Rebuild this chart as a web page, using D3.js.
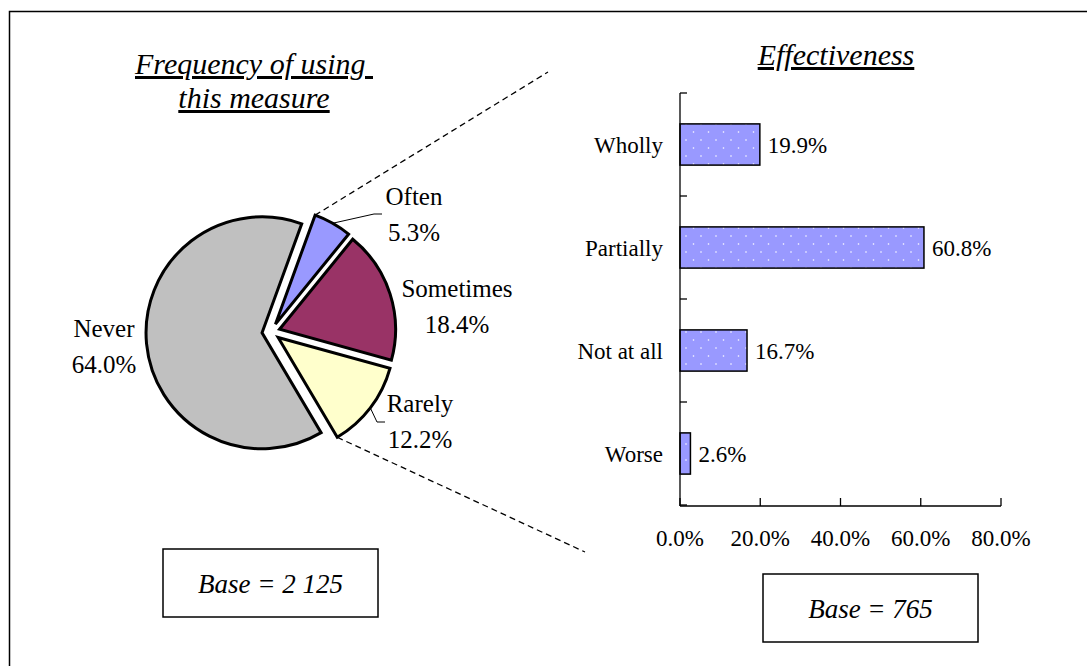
<!DOCTYPE html>
<html>
  <head>
    <style>
      body { margin: 0; background: #fff; }
      text { font-family: "Liberation Serif", "Times New Roman", serif; fill: #000; }
    </style>
  </head>

  <body>

    <svg class="surface" width="1087" height="666"></svg>

    <script src="https://cdn.jsdelivr.net/npm/d3@7/dist/d3.min.js" charset="utf-8"></script>
    <script>

      // pie: frequency of using this measure
      const pieLabels = ['Often', 'Sometimes', 'Rarely', 'Never']
      const pieValues = [5.3, 18.4, 12.2, 64.0]
      const pieColors = ['#9999FF', '#993366', '#FFFFCC', '#C0C0C0']

      // bars: effectiveness
      const barCats = ['Wholly', 'Partially', 'Not at all', 'Worse']
      const barValues = [19.9, 60.8, 16.7, 2.6]
      const xTicks = [0, 20, 40, 60, 80]

      const surface = d3.select('.surface')

      // outer frame (right / bottom edges fall outside the picture)
      surface.append('rect')
        .attr('x', 9.5).attr('y', 11.5)
        .attr('width', 1100).attr('height', 700)
        .attr('fill', 'none').attr('stroke', '#000').attr('stroke-width', 1.5)

      // dotted pattern for the bars
      const pat = surface.append('defs').append('pattern')
        .attr('id', 'dots')
        .attr('patternUnits', 'userSpaceOnUse')
        .attr('width', 15).attr('height', 16)
      pat.append('rect').attr('width', 15).attr('height', 16).attr('fill', '#9999FF')
      pat.append('circle').attr('cx', 3.5).attr('cy', 4).attr('r', 0.8).attr('fill', '#fff')
      pat.append('circle').attr('cx', 11).attr('cy', 12).attr('r', 0.8).attr('fill', '#fff')

      // ---------- left: pie ----------
      const cx = 271, cy = 332, radius = 116, explode = 9
      const pie = d3.pie().sort(null)
        .startAngle(20 * Math.PI / 180)
        .endAngle(380 * Math.PI / 180)
      const arcs = pie(pieValues)
      const arc = d3.arc().innerRadius(0).outerRadius(radius)

      const pieG = surface.append('g').attr('transform', `translate(${cx},${cy})`)

      // dashed connectors toward the bar chart
      const a0 = arcs[0]
      const a2 = arcs[2]
      const offs = d => d3.pointRadial((d.startAngle + d.endAngle) / 2, explode)
      const corner = (d, ang) => {
        const o = offs(d), p = d3.pointRadial(ang, radius)
        return [o[0] + p[0], o[1] + p[1]]
      }
      const c1 = corner(a0, a0.startAngle)
      const c2 = corner(a2, a2.endAngle)
      pieG.append('line')
        .attr('x1', c1[0]).attr('y1', c1[1])
        .attr('x2', 548 - cx).attr('y2', 72 - cy)
        .attr('stroke', '#000').attr('stroke-width', 1.3).attr('stroke-dasharray', '6,4')
      pieG.append('line')
        .attr('x1', c2[0]).attr('y1', c2[1])
        .attr('x2', 585 - cx).attr('y2', 552 - cy)
        .attr('stroke', '#000').attr('stroke-width', 1.3).attr('stroke-dasharray', '6,4')

      pieG.selectAll('path.slice').data(arcs).enter()
        .append('path')
        .attr('class', 'slice')
        .attr('transform', d => `translate(${offs(d)})`)
        .attr('d', arc)
        .attr('fill', (d, i) => pieColors[i])
        .attr('stroke', '#000')
        .attr('stroke-width', 3)
        .attr('stroke-linejoin', 'miter')

      // label anchors (first line baseline, relative to the pie centre)
      const labelAt = [[143, -127], [186, -35], [149, 80], [-167, 5]]
      const pieLab = pieG.selectAll('g.lab').data(arcs).enter()
        .append('g').attr('class', 'lab')
        .attr('transform', (d, i) => `translate(${labelAt[i]})`)
      pieLab.append('text')
        .attr('text-anchor', 'middle').attr('font-size', 25)
        .text((d, i) => pieLabels[i])
      pieLab.append('text')
        .attr('text-anchor', 'middle').attr('font-size', 25).attr('y', 36)
        .text(d => d.data.toFixed(1) + '%')

      // leader lines for the two small outer labels
      const leader = (d, kx, ky) => {
        const o = offs(d)
        const p = d3.pointRadial((d.startAngle + d.endAngle) / 2, radius)
        const s = [o[0] + p[0], o[1] + p[1]]
        return d3.line()([s, [kx - cx, ky - cy], [kx + 8 - cx, ky - cy]])
      }
      pieG.append('path').attr('d', leader(arcs[0], 374, 214))
        .attr('fill', 'none').attr('stroke', '#000').attr('stroke-width', 1)
      pieG.append('path').attr('d', leader(arcs[2], 377, 422))
        .attr('fill', 'none').attr('stroke', '#000').attr('stroke-width', 1)

      // pie title, two lines in one text element
      const title = surface.append('text')
        .attr('text-anchor', 'middle').attr('font-size', 30)
        .attr('font-style', 'italic').attr('text-decoration', 'underline')
        .style('white-space', 'pre')
      title.append('tspan').attr('x', 254).attr('y', 74).text('Frequency of using ')
      title.append('tspan').attr('x', 254).attr('y', 108).text('this measure')

      // ---------- right: bars ----------
      const x = d3.scaleLinear().domain([0, 80]).range([680, 1001])
      const y = d3.scaleBand().domain(barCats).range([93, 505])
        .paddingInner(0.6).paddingOuter(0.3)

      const bars = surface.append('g')
      bars.selectAll('rect').data(barValues).enter()
        .append('rect')
        .attr('x', x(0))
        .attr('y', (d, i) => y(barCats[i]))
        .attr('width', d => x(d) - x(0))
        .attr('height', y.bandwidth())
        .attr('fill', 'url(#dots)')
        .attr('stroke', '#000').attr('stroke-width', 1.5)

      bars.selectAll('text.val').data(barValues).enter()
        .append('text').attr('class', 'val')
        .attr('x', d => x(d) + 8)
        .attr('y', (d, i) => y(barCats[i]) + y.bandwidth() / 2 + 8)
        .attr('font-size', 23)
        .text(d => d.toFixed(1) + '%')

      // y axis with ticks between categories
      const ax = surface.append('g').attr('stroke', '#000').attr('stroke-width', 1.3)
      ax.append('line').attr('x1', x(0)).attr('x2', x(0)).attr('y1', 93).attr('y2', 506)
      d3.range(barCats.length + 1).forEach(k => {
        const yy = 93 + k * y.step()
        ax.append('line').attr('x1', x(0)).attr('x2', x(0) + 7).attr('y1', yy).attr('y2', yy)
      })
      // x axis
      ax.append('line').attr('x1', x(0)).attr('x2', x(80)).attr('y1', 506).attr('y2', 506)
      ax.selectAll('line.xt').data(xTicks).enter()
        .append('line').attr('class', 'xt')
        .attr('x1', d => x(d)).attr('x2', d => x(d))
        .attr('y1', 506).attr('y2', 498)

      surface.selectAll('text.xl').data(xTicks).enter()
        .append('text').attr('class', 'xl')
        .attr('x', d => x(d)).attr('y', 546)
        .attr('text-anchor', 'middle').attr('font-size', 23)
        .text(d => d.toFixed(1) + '%')

      surface.selectAll('text.cat').data(barCats).enter()
        .append('text').attr('class', 'cat')
        .attr('x', 663)
        .attr('y', d => y(d) + y.bandwidth() / 2 + 8)
        .attr('text-anchor', 'end').attr('font-size', 23)
        .text(d => d)

      surface.append('text')
        .attr('x', 836).attr('y', 65)
        .attr('text-anchor', 'middle').attr('font-size', 30)
        .attr('font-style', 'italic').attr('text-decoration', 'underline')
        .text('Effectiveness')

      // ---------- base boxes ----------
      const boxes = [
        { x: 163, y: 549, w: 215, h: 68, label: 'Base = 2 125' },
        { x: 763, y: 574, w: 215, h: 68, label: 'Base = 765' }
      ]
      const bx = surface.selectAll('g.box').data(boxes).enter()
        .append('g').attr('class', 'box')
      bx.append('rect')
        .attr('x', d => d.x).attr('y', d => d.y)
        .attr('width', d => d.w).attr('height', d => d.h)
        .attr('fill', '#fff').attr('stroke', '#000').attr('stroke-width', 1.5)
      bx.append('text')
        .attr('x', d => d.x + d.w / 2).attr('y', d => d.y + d.h / 2 + 10)
        .attr('text-anchor', 'middle').attr('font-size', 27)
        .attr('font-style', 'italic')
        .style('white-space', 'pre')
        .text(d => d.label)

    </script>
  </body>

</html>
